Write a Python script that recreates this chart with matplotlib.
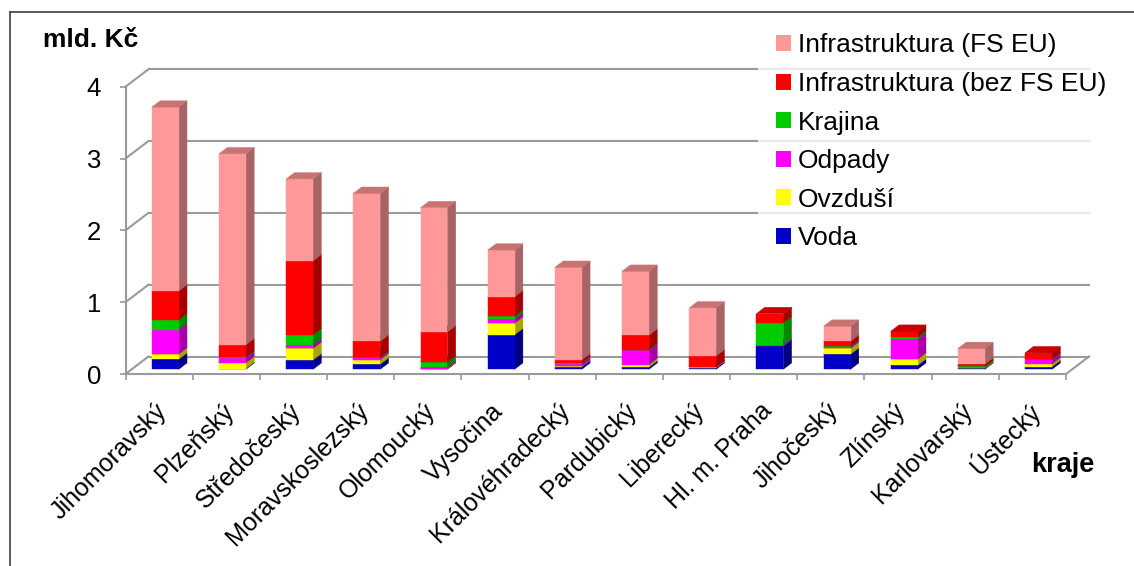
import numpy as np
import matplotlib
matplotlib.use("Agg")
import matplotlib.pyplot as plt
from matplotlib.patches import Polygon, Rectangle, Patch
from matplotlib.lines import Line2D
from matplotlib.transforms import ScaledTranslation

plt.rcParams["font.family"] = ["Liberation Sans", "DejaVu Sans"]

# =========================
# Data (mld. Kč)
# =========================
kraje = ["Jihomoravský", "Plzeňský", "Středočeský", "Moravskoslezský",
         "Olomoucký", "Vysočina", "Královéhradecký", "Pardubický",
         "Liberecký", "Hl. m. Praha", "Jihočeský", "Zlínský",
         "Karlovarský", "Ústecký"]

voda = [0.14, 0.01, 0.13, 0.07, 0.005, 0.48, 0.035, 0.03, 0.02, 0.32, 0.21, 0.055, 0.015, 0.035]
ovzdusi = [0.07, 0.08, 0.16, 0.065, 0.005, 0.16, 0.005, 0.035, 0.005, 0.0, 0.08, 0.085, 0.005, 0.04]
odpady = [0.34, 0.07, 0.05, 0.03, 0.02, 0.06, 0.04, 0.20, 0.01, 0.02, 0.02, 0.28, 0.0, 0.065]
krajina = [0.14, 0.01, 0.14, 0.005, 0.07, 0.04, 0.01, 0.01, 0.0, 0.31, 0.01, 0.03, 0.02, 0.005]
infra_bez = [0.40, 0.17, 1.03, 0.22, 0.42, 0.27, 0.04, 0.20, 0.15, 0.125, 0.07, 0.08, 0.03, 0.085]
infra_fs = [2.56, 2.66, 1.14, 2.06, 1.73, 0.65, 1.29, 0.89, 0.67, 0.0, 0.21, 0.0, 0.22, 0.0]

series = [
    ("Voda", voda, ("#0000C8", "#000080", "#00009C")),
    ("Ovzduší", ovzdusi, ("#FFFF00", "#A6A600", "#C8C800")),
    ("Odpady", odpady, ("#FF00FF", "#A600A6", "#C800C8")),
    ("Krajina", krajina, ("#00CC00", "#008800", "#00A000")),
    ("Infrastruktura (bez FS EU)", infra_bez, ("#FF0000", "#A60000", "#C80000")),
    ("Infrastruktura (FS EU)", infra_fs, ("#FF9999", "#A86464", "#C87272")),
]

# =========================
# Geometry of the pseudo-3D box
# =========================
W, H = 1134, 566
X0, X1 = 125.5, 1066.0      # front floor, px
Y0, Y4 = 374.0, 86.7        # value 0 and 4, px
n = len(kraje)
ppx = (X1 - X0) / n         # px per category
ppy = (Y0 - Y4) / 4.0       # px per mld.
DX = 23.0 / ppx             # depth shift in data units
DY = 17.5 / ppy
BAR_W = 0.40
F0, DD = 0.27, 0.36         # bar front position and depth (fraction of box depth)
GRID = "#9a9a9a"

fig = plt.figure(figsize=(W / 100, H / 100), dpi=100)
ax = fig.add_axes([X0 / W, (H - Y0) / H, (X1 - X0) / W, (Y0 - Y4) / H])
ax.set_xlim(0, n)
ax.set_ylim(0, 4)
ax.patch.set_visible(False)
for s in ax.spines.values():
    s.set_visible(False)

# walls, floor and gridlines
for lvl in range(0, 5):
    ax.plot([0, DX], [lvl, lvl + DY], color=GRID, lw=1.5, clip_on=False, zorder=1)
    ax.plot([DX, n + DX], [lvl + DY, lvl + DY], color=GRID, lw=1.5, clip_on=False, zorder=1)
ax.plot([n, n + DX], [0, DY], color=GRID, lw=1.5, clip_on=False, zorder=1)
ax.plot([0, n], [0, 0], color=GRID, lw=1.5, clip_on=False, zorder=1)
ax.plot([0, 0], [0, 4], color=GRID, lw=1.5, clip_on=False, zorder=1)

# stacked bars
bottoms = np.zeros(n)
for name, vals, (c_front, c_side, c_top) in series:
    for i, v in enumerate(vals):
        if v <= 0:
            continue
        b = bottoms[i]
        x0 = i + 0.5 - BAR_W / 2 + F0 * DX
        y0 = b + F0 * DY
        ddx, ddy = DD * DX, DD * DY
        front = Rectangle((x0, y0), BAR_W, v, facecolor=c_front,
                          edgecolor=c_front, lw=0.3, zorder=3)
        side = Polygon([(x0 + BAR_W, y0), (x0 + BAR_W + ddx, y0 + ddy),
                        (x0 + BAR_W + ddx, y0 + v + ddy), (x0 + BAR_W, y0 + v)],
                       closed=True, facecolor=c_side, edgecolor=c_side, lw=0.3, zorder=3)
        top = Polygon([(x0, y0 + v), (x0 + BAR_W, y0 + v),
                       (x0 + BAR_W + ddx, y0 + v + ddy), (x0 + ddx, y0 + v + ddy)],
                      closed=True, facecolor=c_top, edgecolor=c_top, lw=0.3, zorder=3)
        for p in (side, front, top):
            p.set_clip_on(False)
            ax.add_patch(p)
    bottoms += np.asarray(vals)

# axes ticks
ax.set_yticks(range(5))
ax.tick_params(axis="y", length=4.5, width=1.2, color=GRID, pad=13, labelsize=18.5)
ax.set_xticks(np.arange(n) + 0.5)
ax.set_xticklabels(kraje, rotation=45, ha="right", va="center",
                   rotation_mode="anchor", fontsize=18)
ax.tick_params(axis="x", which="major", length=0, pad=24)
shift = ScaledTranslation(4 / 100, 0, fig.dpi_scale_trans)
for lab in ax.get_xticklabels():
    lab.set_transform(lab.get_transform() + shift)
ax.set_xticks(np.arange(n + 1), minor=True)
ax.tick_params(axis="x", which="minor", length=4.5, width=1.2, color=GRID)

# legend (listed top-down from the last series)
handles = [Patch(facecolor=c[0], edgecolor="none") for _, _, c in series[::-1]]
labels = [s[0] for s in series[::-1]]
leg = fig.legend(handles, labels, loc="upper left",
                 bbox_to_anchor=(758 / W, 1 - 15 / H), fontsize=19,
                 frameon=True, fancybox=False, borderpad=0.7,
                 handlelength=0.55, handleheight=0.55, handletextpad=0.25,
                 labelspacing=0.55, borderaxespad=0)
leg.get_frame().set_facecolor("white")
leg.get_frame().set_edgecolor("none")

fig.text(43 / W, 1 - 40 / H, "mld. Kč", fontsize=19, fontweight="bold",
         ha="left", va="center")
fig.text(1063 / W, 1 - 465 / H, "kraje", fontsize=19.5, fontweight="bold",
         ha="center", va="center")

# outer chart frame
fig.add_artist(Line2D([10 / W, 1], [1 - 12 / H, 1 - 12 / H], color="#404040", lw=1.2))
fig.add_artist(Line2D([10 / W, 10 / W], [0, 1 - 12 / H], color="#404040", lw=1.2))

fig.savefig("out.png", dpi=100)
